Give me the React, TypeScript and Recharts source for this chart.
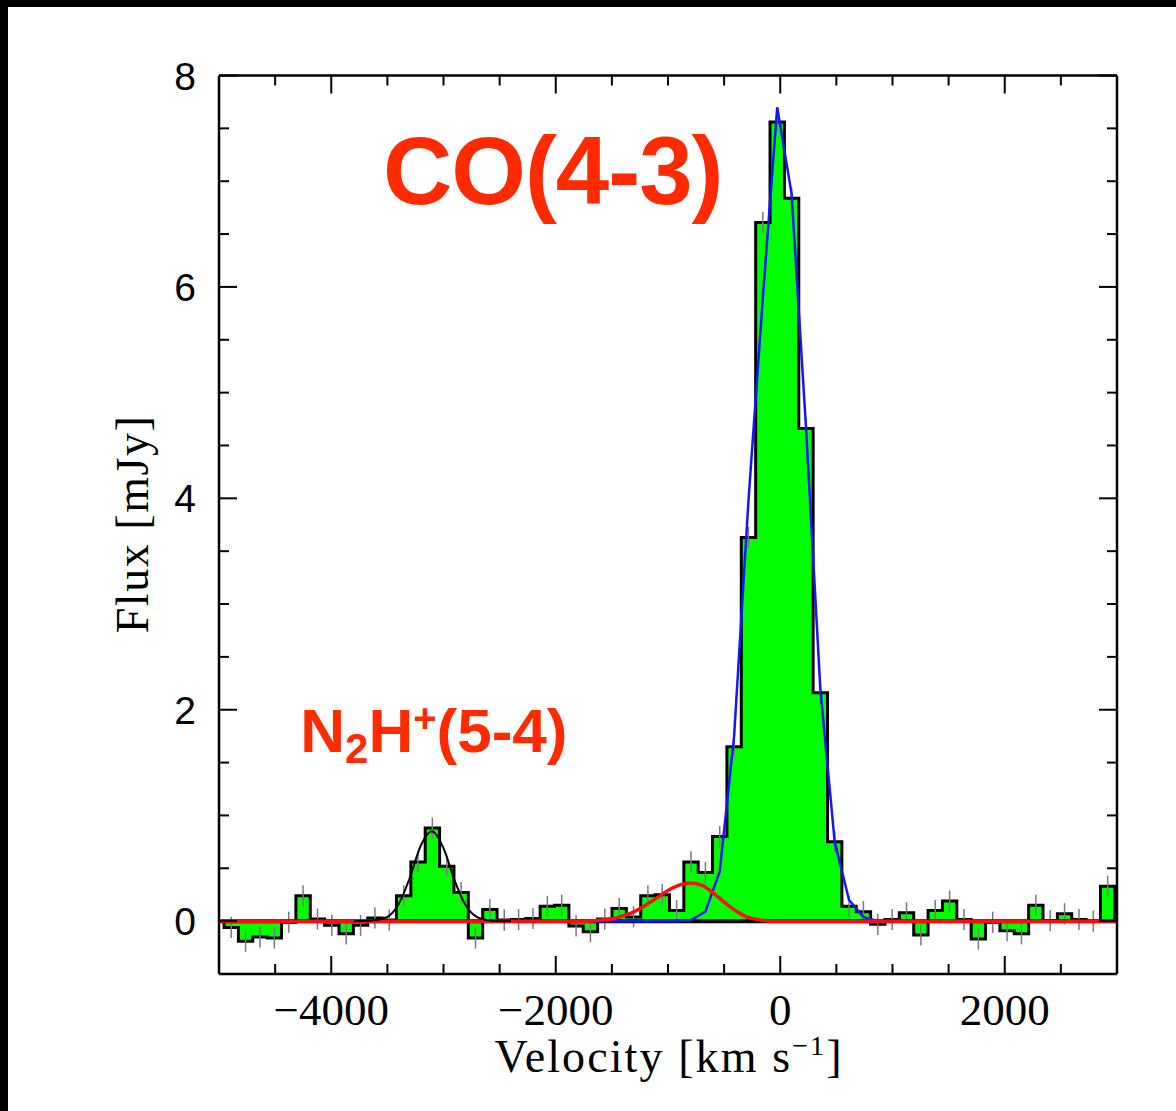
import React from 'react';
import {
  ComposedChart,
  Area,
  Line,
  XAxis,
  YAxis,
  ReferenceLine,
  ReferenceDot,
  ErrorBar,
} from 'recharts';

// channel centres [km/s]
const VELOCITY = [
  -4891, -4763, -4635, -4507, -4379, -4251, -4123, -3995, -3867, -3739,
  -3611, -3483, -3355, -3227, -3099, -2971, -2843, -2715, -2587, -2459,
  -2331, -2203, -2075, -1947, -1819, -1691, -1563, -1435, -1307, -1179,
  -1051, -923, -795, -667, -539, -411, -283, -155, -27, 101,
  229, 357, 485, 613, 741, 869, 997, 1125, 1253, 1381,
  1509, 1637, 1765, 1893, 2021, 2149, 2277, 2405, 2533, 2661,
  2789, 2917,
];

// observed flux per channel [mJy]
const FLUX = [
  -0.06, -0.19, -0.15, -0.16, -0.01, 0.24, 0.02, -0.04, -0.12, -0.04,
  0.03, 0.01, 0.24, 0.56, 0.88, 0.52, 0.27, -0.16, 0.11, 0.01,
  0.015, 0.025, 0.14, 0.15, -0.045, -0.1, 0.02, 0.12, 0.04, 0.24,
  0.25, 0.1, 0.56, 0.46, 0.8, 1.65, 3.63, 6.61, 7.56, 6.84,
  4.66, 2.16, 0.75, 0.14, 0.09, -0.03, 0.015, 0.08, -0.13, 0.1,
  0.19, 0.015, -0.17, -0.01, -0.09, -0.12, 0.15, 0.005, 0.07, 0.015,
  0.0, 0.33,
];
const FLUX_ERR = 0.1;
const CHANNEL_WIDTH = 128;

// CO(4-3) fit (blue)
const CO_FIT_V = [-5000, -923, -795, -667, -539, -411, -283, -155, -27, 101, 229, 357, 485, 613, 741, 869, 3000];
const CO_FIT_F = [0, 0, 0.01, 0.09, 0.47, 1.75, 3.98, 5.9, 7.7, 6.88, 4.68, 2.2, 0.75, 0.2, 0.04, 0, 0];

// blue-wing component (red)
const WING_FIT_V = [-5000, -1700, -1600, -1500, -1400, -1300, -1200, -1100, -1000, -900, -800, -700, -600, -500, -400, -300, -200, -100, 0, 3000];
const WING_FIT_F = [0, 0, 0.01, 0.02, 0.05, 0.09, 0.15, 0.22, 0.29, 0.34, 0.36, 0.34, 0.27, 0.18, 0.1, 0.04, 0.015, 0, 0, 0];

// N2H+(5-4) fit (black)
const N2H_FIT_V = [-3800, -3700, -3600, -3500, -3400, -3300, -3200, -3105, -3000, -2900, -2800, -2700, -2600, -2500, -2400];
const N2H_FIT_F = [0, 0.001, 0.01, 0.04, 0.16, 0.41, 0.72, 0.85, 0.69, 0.38, 0.145, 0.037, 0.008, 0, 0];

const X_MAJOR = [-4000, -2000, 0, 2000];
const X_MINOR = [-4500, -3500, -3000, -2500, -1500, -1000, -500, 500, 1000, 1500, 2500];
const Y_MAJOR = [0, 2, 4, 6, 8];
const Y_MINOR = [0.5, 1, 1.5, 2.5, 3, 3.5, 4.5, 5, 5.5, 6.5, 7, 7.5];

const X_TICKS = [...X_MAJOR, ...X_MINOR].sort((a, b) => a - b);
const Y_TICKS = [...Y_MAJOR, ...Y_MINOR].sort((a, b) => a - b);

const SERIF = "'Liberation Serif', 'Times New Roman', serif";
const SANS = "'Liberation Sans', Arial, sans-serif";
const RED_TEXT = '#ff2a00';
const MAJOR_LEN = 18;
const MINOR_LEN = 10;
const TICK_W = 2;

const half = CHANNEL_WIDTH / 2;
const last = VELOCITY.length - 1;
const histData = [
  { v: VELOCITY[0] - half, f: 0 },
  ...VELOCITY.map((v, i) => ({ v: v - half, f: FLUX[i] })),
  { v: VELOCITY[last] + half, f: FLUX[last] },
  { v: VELOCITY[last] + half, f: 0 },
];
const errData = VELOCITY.map((v, i) => ({ v, f: FLUX[i], err: FLUX_ERR }));
const coData = CO_FIT_V.map((v, i) => ({ v, f: CO_FIT_F[i] }));
const wingData = WING_FIT_V.map((v, i) => ({ v, f: WING_FIT_F[i] }));
const n2hData = N2H_FIT_V.map((v, i) => ({ v, f: N2H_FIT_F[i] }));

const fmtX = (v: number) => (v < 0 ? `\u2212${Math.abs(v)}` : `${v}`);

// ticks point into the plot; labels only on bottom / left majors
const BottomTick = ({ x, y, payload }: any) => {
  const major = X_MAJOR.includes(payload.value);
  return (
    <g>
      <line x1={x} x2={x} y1={y} y2={y - (major ? MAJOR_LEN : MINOR_LEN)} stroke="#000" strokeWidth={TICK_W} />
      {major && (
        <text x={x} y={y + 51} textAnchor="middle" fontFamily={SERIF} fontSize={45} fill="#000">
          {fmtX(payload.value)}
        </text>
      )}
    </g>
  );
};

const TopTick = ({ x, y, payload }: any) => {
  const major = X_MAJOR.includes(payload.value);
  return <line x1={x} x2={x} y1={y} y2={y + (major ? MAJOR_LEN : MINOR_LEN)} stroke="#000" strokeWidth={TICK_W} />;
};

const LeftTick = ({ x, y, payload }: any) => {
  const major = Y_MAJOR.includes(payload.value);
  return (
    <g>
      <line x1={x} x2={x + (major ? MAJOR_LEN : MINOR_LEN)} y1={y} y2={y} stroke="#000" strokeWidth={TICK_W} />
      {major && (
        <text x={x - 23} y={y + 14} textAnchor="end" fontFamily={SANS} fontSize={39} fill="#000">
          {payload.value}
        </text>
      )}
    </g>
  );
};

const RightTick = ({ x, y, payload }: any) => {
  const major = Y_MAJOR.includes(payload.value);
  return <line x1={x} x2={x - (major ? MAJOR_LEN : MINOR_LEN)} y1={y} y2={y} stroke="#000" strokeWidth={TICK_W} />;
};

function XTitle(props: any) {
  const vb = props.viewBox || { x: 219, y: 974, width: 898 };
  return (
    <text
      x={vb.x + vb.width / 2}
      y={vb.y + 98}
      textAnchor="middle"
      fontFamily={SERIF}
      fontSize={46}
      fill="#000"
      textLength={347}
      lengthAdjust="spacing"
    >
      Velocity [km s
      <tspan dy={-17} fontSize={28}>−1</tspan>
      <tspan dy={17}>]</tspan>
    </text>
  );
}

function YTitle(props: any) {
  const vb = props.viewBox || { x: 219, y: 75.5, height: 898.5 };
  const tx = vb.x - 71;
  const ty = vb.y + vb.height / 2;
  return (
    <text
      x={tx}
      y={ty}
      transform={`rotate(-90, ${tx}, ${ty})`}
      textAnchor="middle"
      fontFamily={SERIF}
      fontSize={46}
      fill="#000"
      textLength={217}
      lengthAdjust="spacing"
    >
      Flux [mJy]
    </text>
  );
}

function CoLabel(props: any) {
  const vb = props.viewBox || { x: 0, y: 0 };
  return (
    <text x={vb.x} y={vb.y} fontFamily={SANS} fontWeight="bold" fontSize={96} letterSpacing={-1} fill={RED_TEXT}>
      CO(4-3)
    </text>
  );
}

function N2hLabel(props: any) {
  const vb = props.viewBox || { x: 0, y: 0 };
  return (
    <text x={vb.x} y={vb.y} fontFamily={SANS} fontWeight="bold" fontSize={62} fill={RED_TEXT}>
      N
      <tspan dy={11} fontSize={42}>2</tspan>
      <tspan dy={-11}>H</tspan>
      <tspan dy={-20} fontSize={40}>+</tspan>
      <tspan dy={20}>(5-4)</tspan>
    </text>
  );
}

const axisStroke = { stroke: '#000', strokeWidth: 2.5 };
const THIN = 0.01;

export default function App() {
  return (
    <div style={{ position: 'absolute', left: 0, top: 0, width: 1176, height: 1111, background: '#000' }}>
      <div style={{ position: 'absolute', left: 8, top: 7, right: 0, bottom: 0, background: '#fff' }} />
      <div style={{ position: 'absolute', left: 0, top: 0 }}>
        <ComposedChart width={1176} height={1111} margin={{ top: 75.5, right: 59, bottom: 137, left: 219 }}>
          <XAxis
            xAxisId="b"
            type="number"
            dataKey="v"
            domain={[-5000, 3000]}
            allowDataOverflow
            orientation="bottom"
            height={THIN}
            ticks={X_TICKS}
            interval={0}
            tickSize={0}
            tickMargin={0}
            tick={BottomTick}
            tickLine={false}
            axisLine={axisStroke}
            label={<XTitle />}
          />
          <XAxis
            xAxisId="t"
            type="number"
            dataKey="v"
            domain={[-5000, 3000]}
            allowDataOverflow
            orientation="top"
            height={THIN}
            ticks={X_TICKS}
            interval={0}
            tickSize={0}
            tickMargin={0}
            tick={TopTick}
            tickLine={false}
            axisLine={axisStroke}
          />
          <YAxis
            yAxisId="l"
            type="number"
            domain={[-0.5, 8]}
            allowDataOverflow
            orientation="left"
            width={THIN}
            ticks={Y_TICKS}
            interval={0}
            tickSize={0}
            tickMargin={0}
            tick={LeftTick}
            tickLine={false}
            axisLine={axisStroke}
            label={<YTitle />}
          />
          <YAxis
            yAxisId="r"
            type="number"
            domain={[-0.5, 8]}
            allowDataOverflow
            orientation="right"
            width={THIN}
            ticks={Y_TICKS}
            interval={0}
            tickSize={0}
            tickMargin={0}
            tick={RightTick}
            tickLine={false}
            axisLine={axisStroke}
          />

          <Area
            xAxisId="b"
            yAxisId="l"
            data={histData}
            dataKey="f"
            type="stepAfter"
            baseValue={0}
            fill="#00ff00"
            fillOpacity={1}
            stroke="#000"
            strokeWidth={3}
            isAnimationActive={false}
          />
          <Line xAxisId="b" yAxisId="l" data={errData} dataKey="f" stroke="none" dot={false} activeDot={false} isAnimationActive={false}>
            <ErrorBar dataKey="err" direction="y" width={0} stroke="#7a7a7a" strokeWidth={1.5} />
          </Line>
          <ReferenceLine xAxisId="b" yAxisId="l" y={0} stroke="#000" strokeWidth={4} />
          <Line xAxisId="b" yAxisId="l" data={coData} dataKey="f" type="linear" stroke="#1414ff" strokeWidth={2.5} dot={false} activeDot={false} isAnimationActive={false} />
          <Line xAxisId="b" yAxisId="l" data={wingData} dataKey="f" type="monotone" stroke="#ff0d0d" strokeWidth={3.5} dot={false} activeDot={false} isAnimationActive={false} />
          <Line xAxisId="b" yAxisId="l" data={n2hData} dataKey="f" type="monotone" stroke="#000" strokeWidth={2} dot={false} activeDot={false} isAnimationActive={false} />

          <ReferenceDot xAxisId="b" yAxisId="l" x={-3540} y={6.78} r={0} fill="none" stroke="none" label={<CoLabel />} />
          <ReferenceDot xAxisId="b" yAxisId="l" x={-4276} y={1.6} r={0} fill="none" stroke="none" label={<N2hLabel />} />
        </ComposedChart>
      </div>
    </div>
  );
}
